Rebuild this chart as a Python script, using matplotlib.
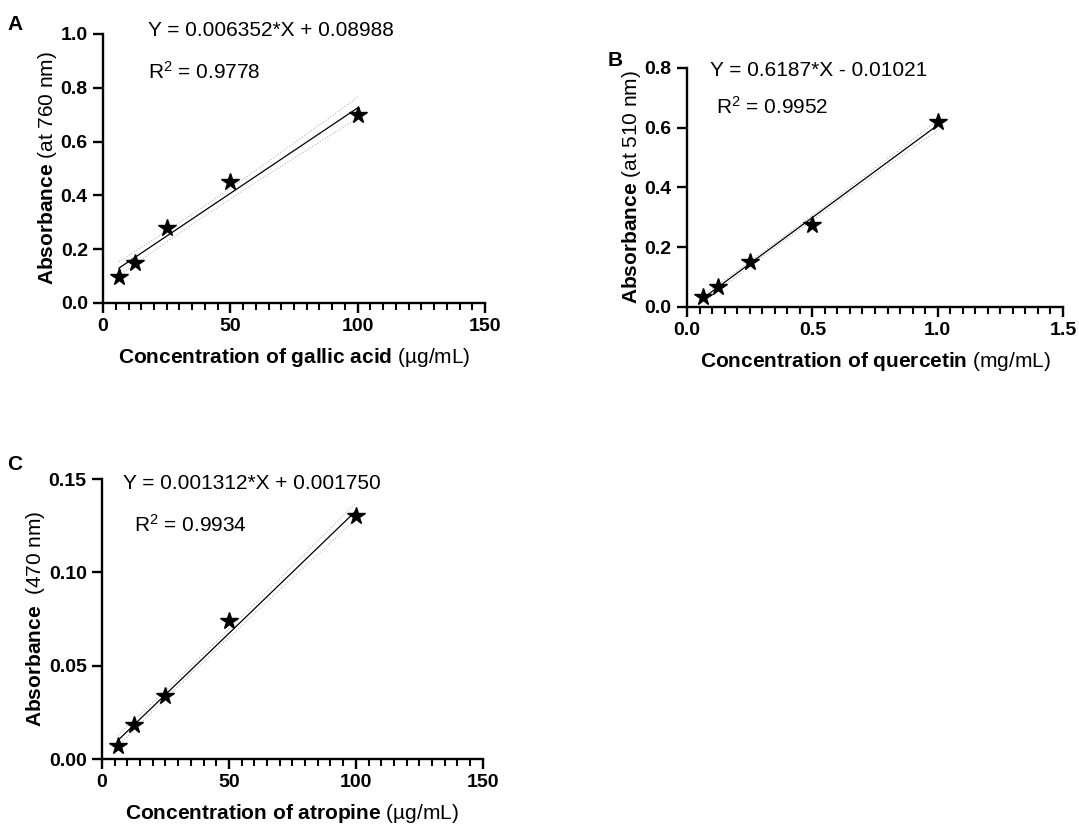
import numpy as np
import matplotlib
matplotlib.use("Agg")
import matplotlib.pyplot as plt

plt.rcParams['font.family'] = ['Liberation Sans', 'DejaVu Sans']
plt.rcParams['mathtext.fontset'] = 'custom'
plt.rcParams['mathtext.rm'] = 'Liberation Sans'
plt.rcParams['mathtext.bf'] = 'Liberation Sans:bold'
plt.rcParams['mathtext.it'] = 'Liberation Sans:italic'

# --- data (mean of triplicates) ---
gallic_x = [6.25, 12.5, 25, 50, 100]
gallic_y = [0.095, 0.150, 0.280, 0.450, 0.700]
gallic_fit = (0.006352, 0.08988)

querc_x = [0.0625, 0.125, 0.25, 0.5, 1.0]
querc_y = [0.033, 0.067, 0.152, 0.273, 0.618]
querc_fit = (0.6187, -0.01021)

atrop_x = [6.25, 12.5, 25, 50, 100]
atrop_y = [0.007, 0.018, 0.034, 0.074, 0.130]
atrop_fit = (0.001312, 0.001750)

N_REP = 3

fig = plt.figure(figsize=(10.79, 8.33), dpi=100)


def ci_band(x, y, xs, n_rep=N_REP):
    # 95% confidence band of the regression, assuming triplicate readings
    x = np.repeat(np.asarray(x, float), n_rep)
    y = np.repeat(np.asarray(y, float), n_rep)
    n = len(x)
    b, a = np.polyfit(x, y, 1)
    res = y - (a + b * x)
    s = np.sqrt(np.sum(res ** 2) / (n - 2))
    sxx = np.sum((x - x.mean()) ** 2)
    se = s * np.sqrt(1 / n + (xs - x.mean()) ** 2 / sxx)
    t = 2.160
    return a + b * xs - t * se, a + b * xs + t * se


def panel(rect, x, y, fit, xlim, xmajor, xminor, ylim, yticks, yfmt, xfmt, xlabel, ylabel):
    ax = fig.add_axes(rect)
    xs = np.linspace(min(x), max(x), 100)
    lo, hi = ci_band(x, y, xs)
    ax.plot(xs, lo, color='#b8b8b8', lw=0.8, ls=':')
    ax.plot(xs, hi, color='#b8b8b8', lw=0.8, ls=':')
    ax.plot(xs, fit[0] * xs + fit[1], color='black', lw=0.9)
    ax.plot(x, y, '*', color='black', ms=13, clip_on=False)
    ax.set_xlim(*xlim)
    ax.set_ylim(*ylim)
    ax.set_xticks(xmajor)
    ax.set_xticks(xminor, minor=True)
    ax.set_yticks(yticks)
    ax.set_yticklabels([yfmt.format(v) for v in yticks])
    ax.set_xticklabels([xfmt.format(v) for v in xmajor])
    for s in ['top', 'right']:
        ax.spines[s].set_visible(False)
    for s in ['left', 'bottom']:
        ax.spines[s].set_linewidth(1.7)
    ax.tick_params(which='major', length=7, width=1.7, labelsize=14, pad=4)
    ax.tick_params(which='minor', length=5, width=1.5)
    for lab in ax.get_xticklabels() + ax.get_yticklabels():
        lab.set_fontweight('bold')
    ax.set_xlabel(xlabel, fontsize=15, labelpad=8)
    ax.set_ylabel(ylabel, fontsize=15, labelpad=1)
    return ax


panel([0.0955, 0.6363, 0.354, 0.323], gallic_x, gallic_y, gallic_fit,
      (0, 150), [0, 50, 100, 150], np.arange(0, 151, 5), (0, 1.0),
      [0, 0.2, 0.4, 0.6, 0.8, 1.0], '{:.1f}', '{:g}',
      r'$\bf{Concentration\ of\ gallic\ acid}$ (µg/mL)',
      r'$\bf{Absorbance}$ (at 760 nm)')

panel([0.6367, 0.6315, 0.3485, 0.287], querc_x, querc_y, querc_fit,
      (0, 1.5), [0, 0.5, 1.0, 1.5], np.arange(0, 1.501, 0.05), (0, 0.8),
      [0, 0.2, 0.4, 0.6, 0.8], '{:.1f}', '{:.1f}',
      r'$\bf{Concentration\ of\ quercetin}$ (mg/mL)',
      r'$\bf{Absorbance}$ (at 510 nm)')

panel([0.0945, 0.0888, 0.353, 0.336], atrop_x, atrop_y, atrop_fit,
      (0, 150), [0, 50, 100, 150], np.arange(0, 151, 5), (0, 0.15),
      [0, 0.05, 0.10, 0.15], '{:.2f}', '{:g}',
      r'$\bf{Concentration\ of\ atropine}$ (µg/mL)',
      r'$\bf{Absorbance}$  (470 nm)')


def px(x, y):
    return x / 1079, 1 - y / 833


# panel letters
for letter, (lx, ly) in [('A', (7, 25)), ('B', (608, 61)), ('C', (7, 465))]:
    fig.text(*px(lx, ly), letter, fontsize=15, fontweight='bold', va='center', ha='left')

# equations
eqs = [
    ('Y = 0.006352*X + 0.08988', (148, 30), r'R$^2$ = 0.9778', (148, 72)),
    ('Y = 0.6187*X - 0.01021', (710, 70), r'R$^2$ = 0.9952', (716, 107)),
    ('Y = 0.001312*X + 0.001750', (123, 483), r'R$^2$ = 0.9934', (134, 525)),
]
for t1, p1, t2, p2 in eqs:
    fig.text(*px(*p1), t1, fontsize=15, va='center', ha='left')
    fig.text(*px(*p2), t2, fontsize=15, va='center', ha='left')

fig.savefig('out.png', dpi=100)
